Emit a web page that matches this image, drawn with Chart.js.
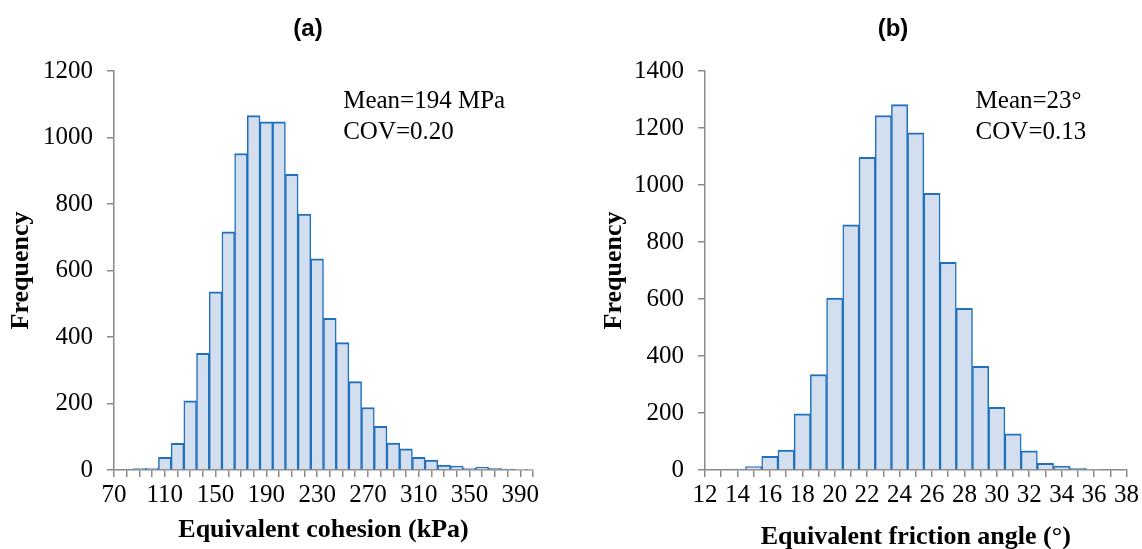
<!DOCTYPE html>
<html>
<head>
<meta charset="utf-8">
<script src="https://cdn.jsdelivr.net/npm/chart.js@4.4.1/dist/chart.umd.min.js"></script>
<style>
  body { margin: 0; background: #fff; }
  #wrap { position: relative; width: 1142px; height: 549px; overflow: hidden; }
  canvas { position: absolute; top: 0; }
  .tag { position: absolute; top: 14px; line-height: 28px; text-align: center;
         font: bold 24px "Liberation Sans", Arial, sans-serif; color: #000; }
</style>
</head>
<body>
<div id="wrap">
  <canvas id="chartA" width="571" height="549" style="left:0"></canvas>
  <canvas id="chartB" width="571" height="549" style="left:571px"></canvas>
  <div class="tag" style="left:208px;width:200px">(a)</div>
  <div class="tag" style="left:793px;width:200px">(b)</div>
</div>
<script>
// histogram (a): equivalent cohesion, bins of 10 kPa
const cohesionBins = [70, 80, 90, 100, 110, 120, 130, 140, 150, 160, 170, 180, 190, 200, 210, 220, 230,
  240, 250, 260, 270, 280, 290, 300, 310, 320, 330, 340, 350, 360, 370, 380, 390, 400];
const cohesionCounts = [0, 0, 4, 6, 38, 80, 208, 351, 536, 716, 952, 1066, 1047, 1047, 889, 770, 635,
  456, 383, 266, 188, 131, 81, 64, 38, 30, 15, 12, 6, 8, 5, 3, 1, 1];
const cohesionNotes = ['Mean=194 MPa', 'COV=0.20'];

// histogram (b): equivalent friction angle, bins of 1 degree
const frictionBins = [12, 13, 14, 15, 16, 17, 18, 19, 20, 21, 22, 23, 24, 25, 26, 27, 28, 29, 30, 31,
  32, 33, 34, 35, 36, 37, 38];
const frictionCounts = [0, 0, 3, 12, 48, 70, 197, 335, 603, 860, 1097, 1244, 1282, 1183, 971, 729, 567,
  364, 220, 127, 67, 23, 13, 6, 2, 0, 0];
const frictionNotes = ['Mean=23°', 'COV=0.13'];

const serif = '"Liberation Serif", "Times New Roman", serif';
const axisGrey = '#8a8a8a';

// text block in the upper right of the plot
const notes = {
  id: 'notes',
  afterDraw(chart, args, opts) {
    const {ctx, chartArea} = chart;
    ctx.save();
    ctx.font = '25px ' + serif;
    ctx.fillStyle = '#000';
    ctx.textAlign = 'left';
    ctx.textBaseline = 'alphabetic';
    opts.lines.forEach((t, i) => {
      ctx.fillText(t, chartArea.left + opts.x * chartArea.width, chartArea.top + 37 + i * 31);
    });
    ctx.restore();
  }
};

function histogram(id, bins, counts, yMax, every, xTitle, titleGap, lines, noteX, padLeft, padRight, axisW) {
  return new Chart(document.getElementById(id), {
    type: 'bar',
    data: {
      labels: bins,
      datasets: [{
        data: counts,
        backgroundColor: '#d3dfef',
        borderColor: '#2170be',
        borderWidth: {top: 2, left: 1.5, right: 1.5, bottom: 0},
        barPercentage: 1,
        categoryPercentage: 1
      }]
    },
    plugins: [notes],
    options: {
      responsive: false,
      animation: false,
      events: [],
      layout: {padding: {left: padLeft, right: padRight, top: 71, bottom: 0}},
      plugins: {
        legend: {display: false},
        tooltip: {enabled: false},
        notes: {lines: lines, x: noteX}
      },
      scales: {
        x: {
          offset: false,
          grid: {offset: false, drawOnChartArea: false, tickLength: 7, color: axisGrey, lineWidth: 1.5},
          border: {color: axisGrey, width: 1.5},
          ticks: {
            autoSkip: false, maxRotation: 0, padding: 3, color: '#000',
            font: {family: serif, size: 25},
            callback: (v, i) => i % every === 0 ? bins[i] : ''
          },
          title: {
            display: true, text: xTitle, color: '#000',
            font: {family: serif, size: 26, weight: 'bold'},
            padding: {top: 0, bottom: titleGap}
          },
          afterFit: s => { s.height = 79; }
        },
        y: {
          min: 0,
          max: yMax,
          ticks: {
            stepSize: 200, padding: 14, color: '#000', font: {family: serif, size: 25},
            callback: v => String(v)
          },
          grid: {drawOnChartArea: false, tickLength: 7, color: axisGrey, lineWidth: 1.5},
          border: {color: axisGrey, width: 1.5},
          title: {
            display: true, text: 'Frequency', color: '#000',
            font: {family: serif, size: 26, weight: 'bold'},
            padding: {top: 6, bottom: 0}
          },
          afterFit: s => { s.width = axisW; }
        }
      }
    }
  });
}

histogram('chartA', cohesionBins, cohesionCounts, 1200, 4, 'Equivalent cohesion (kPa)', 3,
  cohesionNotes, 0.547, 0, 38, 114);
histogram('chartB', frictionBins, frictionCounts, 1400, 2, 'Equivalent friction angle (°)', -4,
  frictionNotes, 0.642, 22, 12, 112);
</script>
</body>
</html>
